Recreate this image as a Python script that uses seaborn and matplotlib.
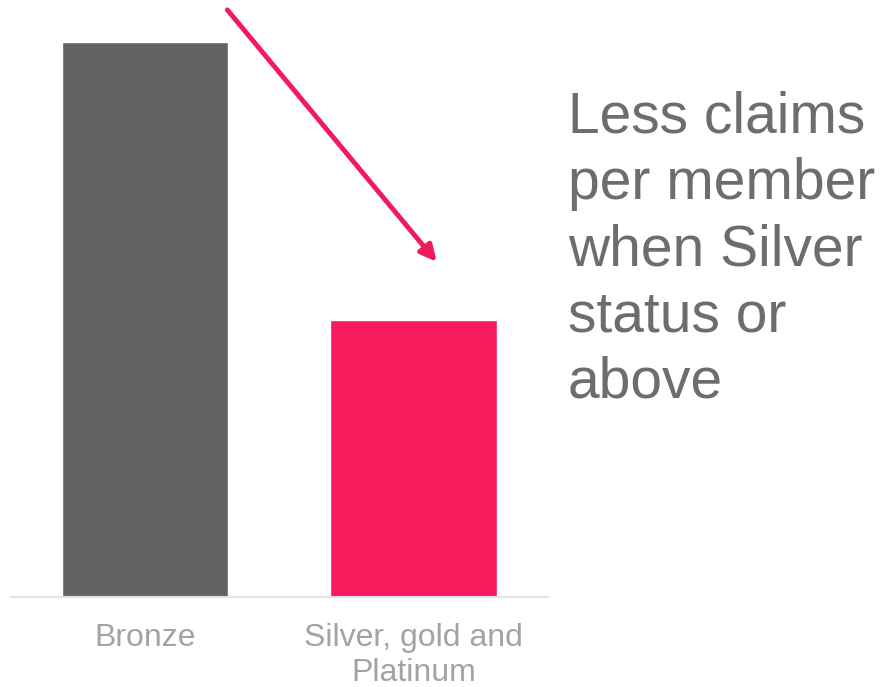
import matplotlib
matplotlib.use("Agg")
import matplotlib.pyplot as plt
import matplotlib.patheffects as pe
import seaborn as sns
import pandas as pd

# Data
tiers = ["Bronze", "Silver, gold and\nPlatinum"]
claims_per_member = [1.0, 0.50]
bar_colors = ["#636363", "#F71B5E"]

sns.set_theme(style="white")
plt.rcParams["font.family"] = ["Liberation Sans", "DejaVu Sans"]

df = pd.DataFrame({"tier": tiers, "claims": claims_per_member})

fig = plt.figure(figsize=(8.8, 6.87), dpi=100)
ax = fig.add_axes([0.0125, 0.131, 0.610, 0.8544])

sns.barplot(data=df, x="tier", y="claims", hue="tier", palette=bar_colors,
            width=0.62, legend=False, ax=ax, saturation=1)

ax.set_xlim(-0.5, 1.5)
ax.set_ylim(0, 1.0577)
ax.set_xlabel("")
ax.set_ylabel("")
ax.set_yticks([])
for s in ["top", "right", "left"]:
    ax.spines[s].set_visible(False)
ax.spines["bottom"].set_color("#e3e3e3")
ax.spines["bottom"].set_linewidth(1.5)
ax.tick_params(axis="x", length=0, pad=19, labelsize=23, labelcolor="#a3a3a3")

# Arrow pointing down toward the smaller bar
ax.annotate("", xy=(1.086, 0.604), xytext=(0.306, 1.058), xycoords="data",
            annotation_clip=False,
            arrowprops=dict(arrowstyle="-|>,head_length=0.8,head_width=0.4",
                            color="#F2195E", lw=3.5, shrinkA=0, shrinkB=0,
                            path_effects=[pe.SimplePatchShadow(offset=(1.5, -1.5), alpha=0.25),
                                          pe.Normal()]))

fig.text(0.645, 0.868, "Less claims\nper member\nwhen Silver\nstatus or\nabove",
         fontsize=41, color="#6d6d6d", va="top", ha="left", linespacing=1.29)

fig.savefig("out.png", dpi=100)
